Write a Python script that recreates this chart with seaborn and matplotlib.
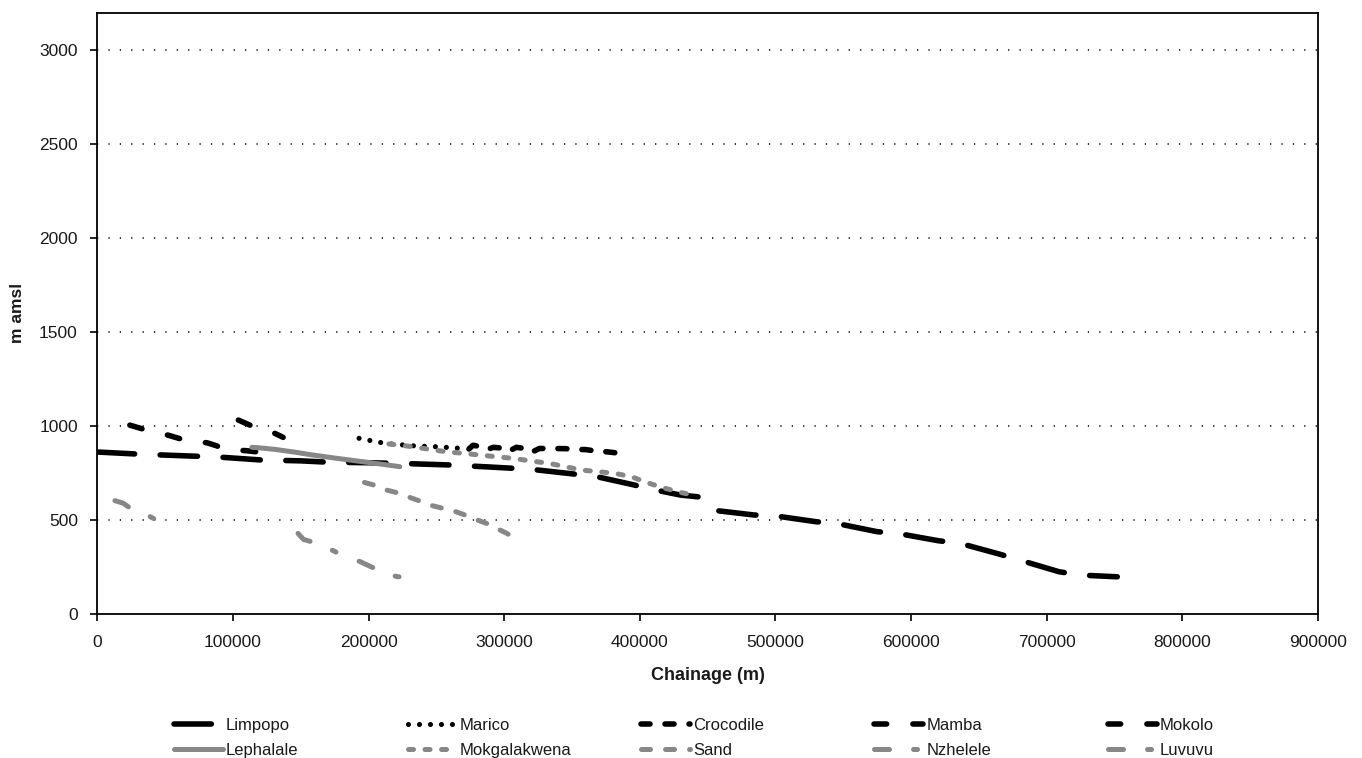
import numpy as np
import pandas as pd
import matplotlib
matplotlib.use("Agg")
import matplotlib.pyplot as plt
import seaborn as sns

# ---------------- data ----------------
limpopo_x = [0, 30000, 60000, 90000, 120000, 150000, 170000, 200000, 230000, 260000, 290000,
             320000, 350000, 370000, 395000, 410000, 430000, 445000, 452000, 458000, 484000,
             500000, 530000, 545000, 575000, 590000, 620000, 636000, 665000, 680000, 709000,
             725000, 752000]
limpopo_y = [862, 851, 843, 835, 820, 815, 808, 805, 800, 793, 782,
             770, 746, 728, 688, 662, 633, 622, 585, 549, 527,
             522, 491, 482, 438, 429, 390, 376, 319, 287, 225,
             207, 198]

marico_x = [193000, 202000, 210000, 218000, 235000, 251000, 269000]
marico_y = [935, 922, 911, 904, 894, 890, 881]

crocodile_x = [274000, 277000, 283000, 287000, 292000, 300000, 303000, 309000, 316000, 320000,
               326000, 345000, 351000, 360000, 368000, 376000, 382000]
crocodile_y = [878, 898, 890, 874, 887, 882, 865, 887, 880, 860,
               881, 880, 876, 875, 867, 863, 858]

mamba_x = [104000, 118000, 131000, 137000]
mamba_y = [1032, 988, 961, 940]

mokolo_x = [24000, 38000, 52000, 66000, 81000, 88000, 94000, 110000, 124000]
mokolo_y = [1005, 975, 952, 922, 911, 895, 876, 869, 858]

lephalale_x = [114000, 120000, 131000, 145000, 159000, 175000, 196000, 210000, 223000]
lephalale_y = [887, 884, 876, 862, 846, 830, 810, 797, 784]

mokgalakwena_x = [215000, 233000, 245000, 258000, 270000, 282000, 294000, 307000, 319000, 333000,
                  345000, 357000, 370000, 382000, 394000, 405000, 417000, 430000, 442000]
mokgalakwena_y = [905, 890, 876, 863, 855, 846, 837, 828, 815, 802,
                  784, 766, 757, 748, 730, 700, 672, 647, 628]

sand_x = [197000, 208000, 213000, 223000, 229000, 239000, 245000, 255000, 261000, 271000,
          277000, 287000, 293000, 302000, 308000]
sand_y = [700, 678, 660, 642, 624, 598, 580, 562, 553, 527,
          509, 482, 461, 429, 400]

nzhelele_x = [148000, 152000, 162000, 174000, 180000, 194000, 207000, 215000, 221000, 227000]
nzhelele_y = [429, 397, 376, 337, 314, 278, 234, 210, 199, 195]

luvuvu_x = [13000, 19000, 22000, 25000, 39000, 46000]
luvuvu_y = [603, 590, 575, 558, 518, 491]

series_names = ["Limpopo", "Marico", "Crocodile", "Mamba", "Mokolo",
                "Lephalale", "Mokgalakwena", "Sand", "Nzhelele", "Luvuvu"]
series_x = [limpopo_x, marico_x, crocodile_x, mamba_x, mokolo_x,
            lephalale_x, mokgalakwena_x, sand_x, nzhelele_x, luvuvu_x]
series_y = [limpopo_y, marico_y, crocodile_y, mamba_y, mokolo_y,
            lephalale_y, mokgalakwena_y, sand_y, nzhelele_y, luvuvu_y]

x_ticks = [0, 100000, 200000, 300000, 400000, 500000, 600000, 700000, 800000, 900000]
y_ticks = [0, 500, 1000, 1500, 2000, 2500, 3000]

# ---------------- styling ----------------
BLACK = "#000000"
GRAY = "#878787"
styles = {
    "Limpopo":      (BLACK, 4.0, (26.9, 18.4)),
    "Marico":       (BLACK, 3.7, (0.01, 7.9)),
    "Crocodile":    (BLACK, 4.0, (6.5, 10.8)),
    "Mamba":        (BLACK, 4.0, (9.1, 18.9)),
    "Mokolo":       (BLACK, 4.0, (9.1, 18.9)),
    "Lephalale":    (GRAY, 3.6, None),
    "Mokgalakwena": (GRAY, 3.6, (3.6, 8.3)),
    "Sand":         (GRAY, 3.6, (6.5, 10.8)),
    "Nzhelele":     (GRAY, 3.6, (10.8, 17.3, 2.9, 18.0)),
    "Luvuvu":       (GRAY, 3.6, (10.8, 17.3, 2.9, 18.0)),
}

sns.set_theme(style="white")
plt.rcParams["font.family"] = ["Liberation Sans", "DejaVu Sans"]
plt.rcParams["lines.scale_dashes"] = False

W, H = 1362, 758
fig = plt.figure(figsize=(W / 100, H / 100), dpi=100)
ax_l, ax_r, ax_t, ax_b = 97.3, 1318.0, 12.7, 614.0
ax = fig.add_axes([ax_l / W, 1 - ax_b / H, (ax_r - ax_l) / W, (ax_b - ax_t) / H])

handles = {}
for name, xs, ys in zip(series_names, series_x, series_y):
    color, lw, dash = styles[name]
    df = pd.DataFrame({"Chainage": xs, "Elev": ys})
    sns.lineplot(data=df, x="Chainage", y="Elev", ax=ax, color=color, lw=lw,
                 sort=False, estimator=None, legend=False)
    line = ax.lines[-1]
    if dash is not None:
        line.set_dashes(dash)
    line.set_dash_capstyle("round")
    line.set_solid_capstyle("round")
    line.set_zorder(3)
    handles[name] = line

ax.set_xlim(0, 900000)
ax.set_ylim(0, 3200)
ax.set_xticks(x_ticks)
ax.set_xticklabels([str(v) for v in x_ticks], fontsize=12.5, color="#1a1a1a")
ax.set_yticks(y_ticks)
ax.set_yticklabels([str(v) for v in y_ticks], fontsize=12.5, color="#1a1a1a")
ax.tick_params(axis="x", direction="out", length=5, width=1.2, color="black", pad=10, bottom=True)
ax.tick_params(axis="y", direction="out", length=5, width=1.2, color="black", pad=9, left=True)

for gy in y_ticks[1:]:
    ax.axhline(gy, color="#222222", lw=1.3, ls=(0, (0.9, 7.3)), zorder=1)

for sp in ax.spines.values():
    sp.set_visible(True)
    sp.set_color("black")
    sp.set_linewidth(1.3)

ax.set_xlabel("Chainage (m)", fontsize=13, fontweight="bold", color="#1a1a1a")
ax.xaxis.set_label_coords(0.5, (ax_b - 676) / (ax_b - ax_t))
ax.xaxis.label.set_va("center")
ax.set_ylabel("m amsl", fontsize=12.5, fontweight="bold", color="#1a1a1a")
ax.yaxis.set_label_coords((18 - ax_l) / (ax_r - ax_l), 0.5)
ax.yaxis.label.set_va("center")

cols = [("Limpopo", "Lephalale"), ("Marico", "Mokgalakwena"), ("Crocodile", "Sand"),
        ("Mamba", "Nzhelele"), ("Mokolo", "Luvuvu")]
col_x = [173.5, 407.5, 640.5, 874.0, 1107.5]
row_mid = 738
for (a, b), cx in zip(cols, col_x):
    fig.legend(handles=[handles[a], handles[b]], labels=[a, b], loc="center left",
               bbox_to_anchor=(cx / W, 1 - row_mid / H), bbox_transform=fig.transFigure,
               frameon=False, borderpad=0, borderaxespad=0, handlelength=35.6 / 12,
               handletextpad=0.18, labelspacing=0.6, fontsize=12,
               labelcolor="#1a1a1a")

fig.savefig("out.png", dpi=100, facecolor="white")
